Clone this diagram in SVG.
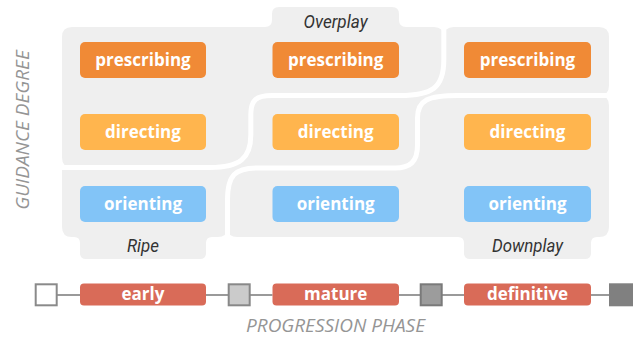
<svg xmlns="http://www.w3.org/2000/svg" width="638" height="338" viewBox="0 0 638 338">
  <style>
    .region { fill: #efefef; }
    .seam { fill: none; stroke: #ffffff; stroke-width: 5; }
    .box { stroke: none; }
    .prescribing { fill: #f08a36; }
    .directing { fill: #ffb54e; }
    .orienting { fill: #82c4f7; }
    .phase { fill: #d96b58; }
    .label { font-family: "Open Sans", "DejaVu Sans", sans-serif; font-weight: bold; font-size: 17px; fill: #ffffff; text-anchor: middle; }
    .zone { font-family: Roboto, "Liberation Sans", sans-serif; font-style: italic; font-size: 18px; fill: #333333; text-anchor: middle; }
    .axis { font-family: "Open Sans", "DejaVu Sans", sans-serif; font-style: italic; font-size: 19px; fill: #959595; text-anchor: middle; }
    .link { stroke: #9a9a9a; stroke-width: 2; fill: none; }
    .step { stroke-width: 2; }
  </style>

  <!-- background zones -->
  <g id="zones">
    <path id="zone-overplay" class="region" d="M 62 37 Q 62 27 72 27 L 265 27 Q 272 27 272 20 L 272 14 Q 272 7 279 7 L 392 7 Q 399 7 399 14 L 399 20 Q 399 27 406 27 L 433.8 27 Q 443.8 27 443.8 37 L 443.8 60 C 443.8 88 432 95.5 400 95.5 L 272 95.5 C 256 95.5 250.8 100 250.8 115 L 250.8 135 C 250.8 158 240 167.5 210 167.5 L 72 167.5 Q 62 167.5 62 157.5 Z"/>
    <path id="zone-ripe" class="region" d="M 62 167.5 L 210 167.5 C 240 167.5 250.8 158 250.8 135 L 250.8 115 C 250.8 100 256 95.5 272 95.5 L 400 95.5 C 432 95.5 443.8 88 443.8 60 L 443.8 37 Q 443.8 27 453.8 27 L 599 27 Q 609 27 609 37 L 609 85.5 Q 609 95.5 599 95.5 L 458 95.5 C 428 95.5 417.5 100 417.5 118 L 417.5 145 C 417.5 162 410 168 395 168 L 258 168 C 235 168 227.5 175 227.5 200 L 227.5 227 Q 227.5 237 217.5 237 L 212 237 Q 206 237 206 243 L 206 253 Q 206 259 200 259 L 86 259 Q 80 259 80 253 L 80 243 Q 80 237 74 237 L 72 237 Q 62 237 62 227 Z"/>
    <path id="zone-downplay" class="region" d="M 237.5 237 Q 227.5 237 227.5 227 L 227.5 200 C 227.5 175 235 168 258 168 L 395 168 C 410 168 417.5 162 417.5 145 L 417.5 118 C 417.5 100 428 95.5 458 95.5 L 599 95.5 Q 609 95.5 609 105.5 L 609 227 Q 609 237 599 237 L 597 237 Q 591 237 591 243 L 591 253 Q 591 259 585 259 L 470 259 Q 464 259 464 253 L 464 243 Q 464 237 458 237 Z"/>
    <path class="seam" d="M 58 167.5 L 210 167.5 C 240 167.5 250.8 158 250.8 135 L 250.8 115 C 250.8 100 256 95.5 272 95.5 L 400 95.5 C 432 95.5 443.8 88 443.8 60 L 443.8 20"/>
    <path class="seam" d="M 227.5 241 L 227.5 200 C 227.5 175 235 168 258 168 L 395 168 C 410 168 417.5 162 417.5 145 L 417.5 118 C 417.5 100 428 95.5 458 95.5 L 613 95.5"/>
    <text class="zone" x="335.5" y="28" textLength="64" lengthAdjust="spacingAndGlyphs">Overplay</text>
    <text class="zone" x="143" y="252" textLength="32" lengthAdjust="spacingAndGlyphs">Ripe</text>
    <text class="zone" x="527.5" y="252" textLength="71" lengthAdjust="spacingAndGlyphs">Downplay</text>
  </g>

  <!-- axis titles -->
  <text class="axis" transform="translate(28.5 130) rotate(-90)">GUIDANCE DEGREE</text>
  <text class="axis" x="335.5" y="331.5">PROGRESSION PHASE</text>

  <!-- guidance nodes -->
  <g id="early-prescribing"><rect class="box prescribing" x="80" y="42" width="126" height="36" rx="5"/><text class="label" x="143" y="65.5">prescribing</text></g>
  <g id="mature-prescribing"><rect class="box prescribing" x="272.5" y="42" width="126.5" height="36" rx="5"/><text class="label" x="335.7" y="65.5">prescribing</text></g>
  <g id="definitive-prescribing"><rect class="box prescribing" x="464" y="42" width="127" height="36" rx="5"/><text class="label" x="527.5" y="65.5">prescribing</text></g>
  <g id="early-directing"><rect class="box directing" x="80" y="114" width="126" height="36" rx="5"/><text class="label" x="143" y="137.5">directing</text></g>
  <g id="mature-directing"><rect class="box directing" x="272.5" y="114" width="126.5" height="36" rx="5"/><text class="label" x="335.7" y="137.5">directing</text></g>
  <g id="definitive-directing"><rect class="box directing" x="464" y="114" width="127" height="36" rx="5"/><text class="label" x="527.5" y="137.5">directing</text></g>
  <g id="early-orienting"><rect class="box orienting" x="80" y="186" width="126" height="36" rx="5"/><text class="label" x="143" y="209.5">orienting</text></g>
  <g id="mature-orienting"><rect class="box orienting" x="272.5" y="186" width="126.5" height="36" rx="5"/><text class="label" x="335.7" y="209.5">orienting</text></g>
  <g id="definitive-orienting"><rect class="box orienting" x="464" y="186" width="127" height="36" rx="5"/><text class="label" x="527.5" y="209.5">orienting</text></g>

  <!-- timeline links -->
  <g id="connectors">
    <line class="link" x1="57" y1="295" x2="80" y2="295"/>
    <line class="link" x1="206" y1="295" x2="228" y2="295"/>
    <line class="link" x1="250" y1="295" x2="272.5" y2="295"/>
    <line class="link" x1="399" y1="295" x2="420" y2="295"/>
    <line class="link" x1="442" y1="295" x2="464" y2="295"/>
    <line class="link" x1="591" y1="295" x2="610" y2="295"/>
  </g>

  <!-- timeline milestones -->
  <g id="milestone-start"><rect class="step" x="35.7" y="284.3" width="21" height="21" fill="#ffffff" stroke="#8a8a8a"/></g>
  <g id="milestone-early"><rect class="step" x="228.7" y="284.3" width="21" height="21" fill="#cbcbcb" stroke="#888888"/></g>
  <g id="milestone-mature"><rect class="step" x="420.7" y="284.3" width="21" height="21" fill="#9c9c9c" stroke="#7a7a7a"/></g>
  <g id="milestone-definitive"><rect class="step" x="610" y="284.3" width="22" height="21" fill="#808080" stroke="#808080"/></g>

  <!-- phase nodes -->
  <g id="phase-early"><rect class="box phase" x="80" y="283.5" width="126" height="22" rx="4"/><text class="label" x="143" y="300.3">early</text></g>
  <g id="phase-mature"><rect class="box phase" x="272.5" y="283.5" width="126.5" height="22" rx="4"/><text class="label" x="335.7" y="300.3">mature</text></g>
  <g id="phase-definitive"><rect class="box phase" x="464" y="283.5" width="127" height="22" rx="4"/><text class="label" x="527.5" y="300.3">definitive</text></g>
</svg>
